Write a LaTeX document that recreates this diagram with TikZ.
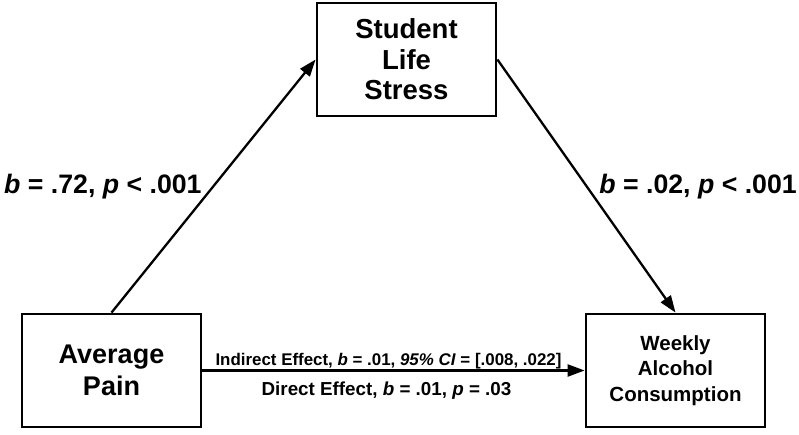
\documentclass[tikz,border=0pt]{standalone}
\usepackage{fontspec}
\setmainfont{Liberation Sans}
\usetikzlibrary{arrows.meta}
\begin{document}
\begin{tikzpicture}[x=1pt,y=-1pt,
  varbox/.style={draw, line width=2.8pt, minimum width=179pt, minimum height=113pt, inner sep=0pt, align=center},
  conn/.style={line width=2.3pt, -{Triangle[length=17pt,width=12pt]}},
  big/.style={font=\fontsize{27.5}{30.5}\selectfont\bfseries},
  small/.style={font=\fontsize{20.5}{25.5}\selectfont\bfseries},
  coef/.style={font=\fontsize{26.7}{30}\selectfont\bfseries, inner sep=0pt},
  eff/.style={font=\fontsize{16}{19}\selectfont\bfseries, inner sep=0pt}]
\useasboundingbox (0,0) rectangle (799,434);
\fill[white] (0,0) rectangle (799,434);
\node[varbox, big] (sls) at (406.5,59.5) {Student\\Life\\Stress};
\node[varbox, big, font=\fontsize{27}{32}\selectfont\bfseries] (ap) at (111.5,370.5) {Average\\Pain};
\node[varbox, small] (wac) at (675.5,370.5) {Weekly\\Alcohol\\Consumption};
\draw[conn] (ap.north) -- (sls.west);
\draw[conn] (sls.east) -- (wac.north);
\draw[conn] (ap.east) -- (wac.west);
\node[coef, anchor=base west] (l1) at (4,193) {\textit{b} = .72, \textit{p} < .001};
\node[coef, anchor=base east] (l2) at (797,193) {\textit{b} = .02, \textit{p} < .001};
\node[eff, font=\fontsize{16.9}{19}\selectfont\bfseries, anchor=base] (ind) at (388.5,365) {Indirect Effect, \textit{b} = .01, \textit{95\% CI} = [.008, .022]};
\node[eff, font=\fontsize{18.8}{22}\selectfont\bfseries, anchor=base] (dir) at (386.5,395) {Direct Effect, \textit{b} = .01, \textit{p} = .03};
\end{tikzpicture}
\end{document}
